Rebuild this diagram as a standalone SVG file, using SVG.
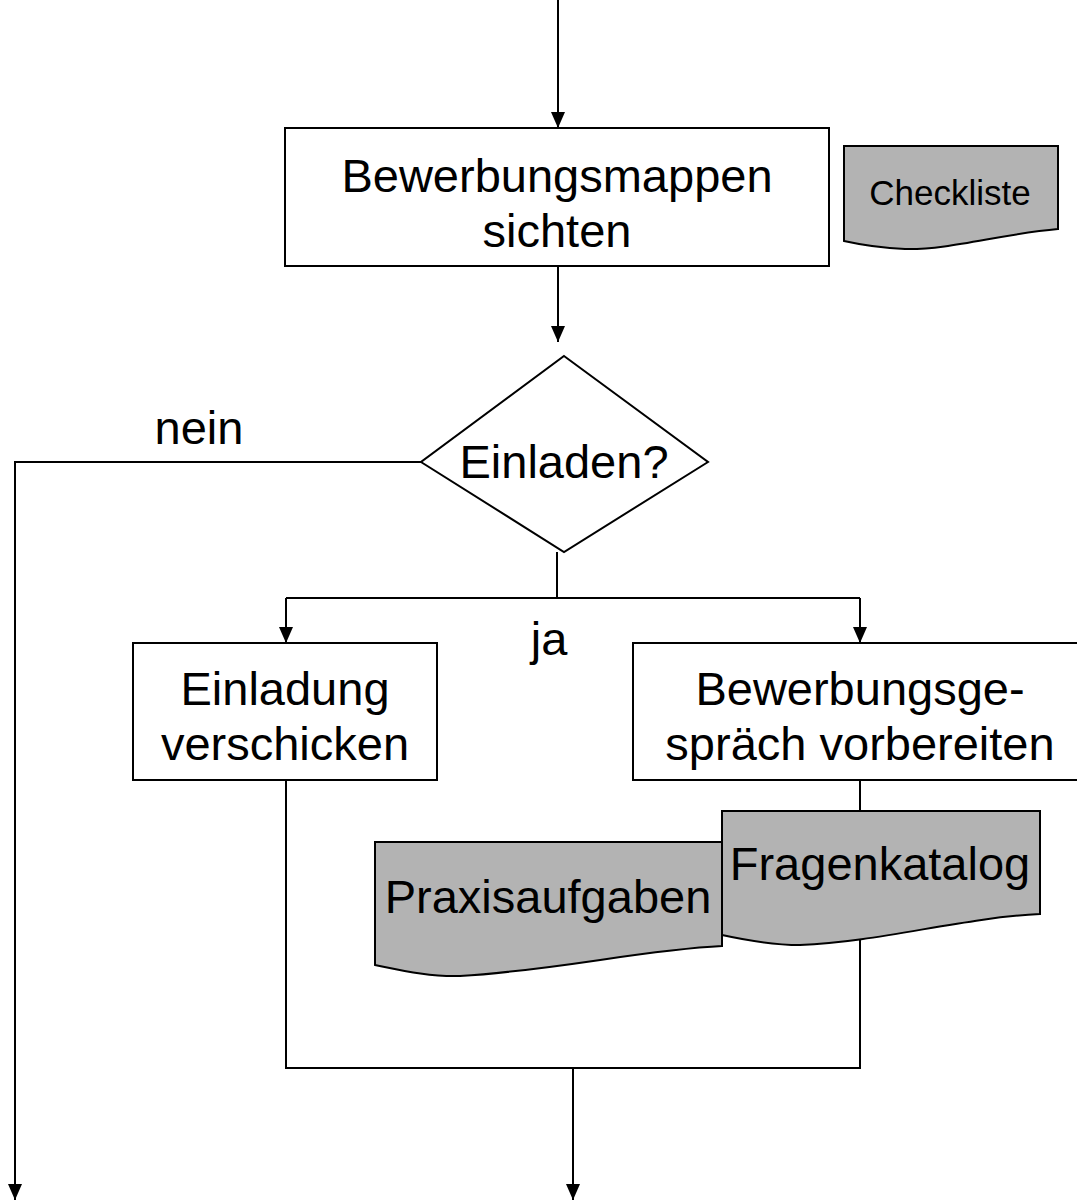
<svg xmlns="http://www.w3.org/2000/svg" width="1077" height="1201" viewBox="0 0 1077 1201">
<style>
.box{fill:#fff;stroke:#000;stroke-width:2}
.doc{fill:#b3b3b3;stroke:#000;stroke-width:2}
.ln{fill:none;stroke:#000;stroke-width:2}
text{font-family:"Liberation Sans",Arial,sans-serif;font-size:47px;fill:#000;text-anchor:middle}
.sm{font-size:35px}
</style>
<defs>
<marker id="ah" markerUnits="userSpaceOnUse" markerWidth="16" markerHeight="14" refX="16" refY="7" orient="auto" viewBox="0 0 16 14">
<path d="M0,0 L16,7 L0,14 Z" fill="#000"/>
</marker>
</defs>
<rect width="1077" height="1201" fill="#fff"/>
<g id="connectors">
<path class="ln" d="M558,0 V128" marker-end="url(#ah)"/>
<path class="ln" d="M558,266 V342" marker-end="url(#ah)"/>
<path class="ln" d="M421,462 H15 V1200" marker-end="url(#ah)"/>
<path class="ln" d="M557,552 V598"/>
<path class="ln" d="M286,598 H860"/>
<path class="ln" d="M286,598 V643" marker-end="url(#ah)"/>
<path class="ln" d="M860,598 V643" marker-end="url(#ah)"/>
<path class="ln" d="M286,780 V1068 H860 V780"/>
<path class="ln" d="M573,1068 V1200" marker-end="url(#ah)"/>
</g>
<g id="n-sichten">
<rect class="box" x="285" y="128" width="544" height="138"/>
<text x="557" y="192">Bewerbungsmappen</text>
<text x="557" y="247">sichten</text>
</g>
<g id="n-checkliste">
<path class="doc" d="M844,146 H1058 V229 C1000,234 950,250 905,249 C880,248 862,245 844,241 Z"/>
<text class="sm" x="950" y="205">Checkliste</text>
</g>
<g id="n-einladen">
<polygon class="box" points="564,356 708,462 564,552 421,462"/>
<text x="564" y="478">Einladen?</text>
</g>
<g id="l-nein"><text x="199" y="444">nein</text></g>
<g id="l-ja"><text x="549" y="655">ja</text></g>
<g id="n-einladung">
<rect class="box" x="133" y="643" width="304" height="137"/>
<text x="285" y="705">Einladung</text>
<text x="285" y="760">verschicken</text>
</g>
<g id="n-gespraech">
<rect class="box" x="633" y="643" width="452" height="137"/>
<text x="860" y="705">Bewerbungsge-</text>
<text x="860" y="760">spräch vorbereiten</text>
</g>
<g id="n-praxis">
<path class="doc" d="M375,842 H722 V946 C640,950 560,970 460,976 C430,977 400,970 375,965 Z"/>
<text x="548" y="913">Praxisaufgaben</text>
</g>
<g id="n-fragen">
<path class="doc" d="M722,811 H1040 V914 C960,918 880,942 800,945 C775,945 745,940 722,935 Z"/>
<text x="880" y="880">Fragenkatalog</text>
</g>
</svg>
